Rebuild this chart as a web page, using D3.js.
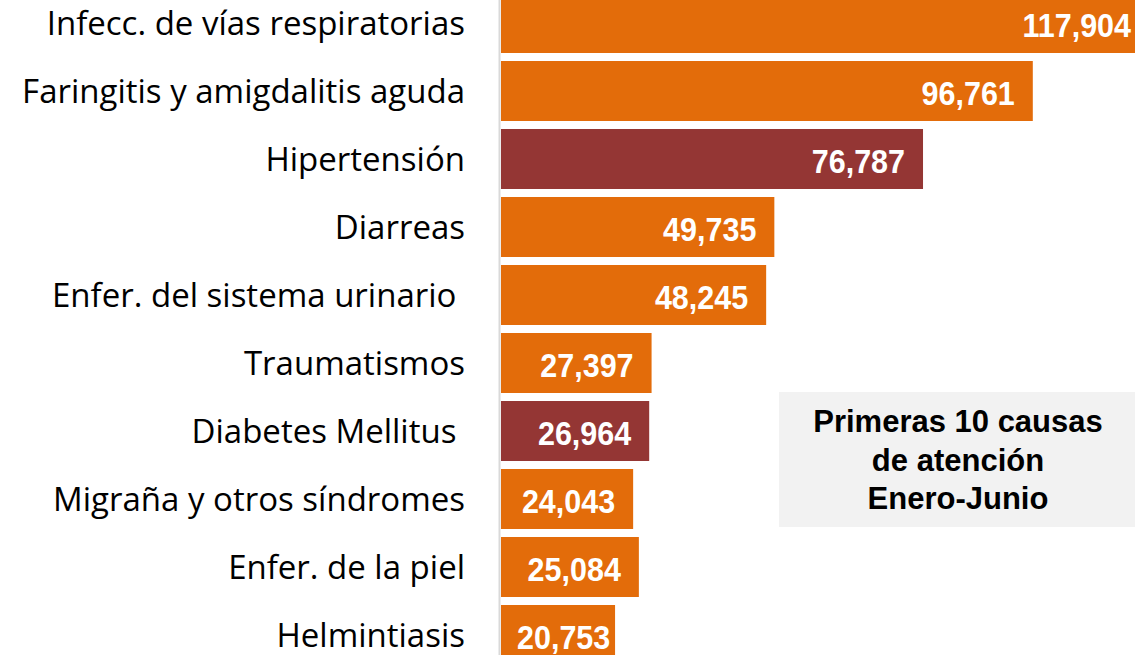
<!DOCTYPE html>
<html>
<head>
<meta charset="utf-8">
<script src="https://cdn.jsdelivr.net/npm/d3@7"></script>
<style>
    body { margin: 0; background: #fff; }
    svg { display: block; }
</style>
</head>
<body>
<svg width="1135" height="655"></svg>
<script>
const categories = [
    "Infecc. de vías respiratorias",
    "Faringitis y amigdalitis aguda",
    "Hipertensión",
    "Diarreas",
    "Enfer. del sistema urinario ",
    "Traumatismos",
    "Diabetes Mellitus ",
    "Migraña y otros síndromes",
    "Enfer. de la piel",
    "Helmintiasis"
];
const values = [117904, 96761, 76787, 49735, 48245, 27397, 26964, 24043, 25084, 20753];
const highlighted = ["Hipertensión", "Diabetes Mellitus "];
const boxLines = ["Primeras 10 causas", "de atención", "Enero-Junio"];

const svg = d3.select("svg");
const orange = "#e36c0a";
const darkRed = "#943634";

const data = categories.map((c, i) => ({ name: c, value: values[i] }));

const x = d3.scaleLinear()
    .domain([0, 117904])
    .range([501, 1149]);

const y = d3.scaleBand()
    .domain(categories)
    .range([-11, 669])
    .paddingInner(8 / 68)
    .paddingOuter(4 / 68);

// title box
svg.append("rect")
    .attr("x", 779)
    .attr("y", 392)
    .attr("width", 360)
    .attr("height", 135)
    .attr("fill", "#f2f2f2");

svg.append("g")
    .selectAll("text")
    .data(boxLines)
    .enter()
    .append("text")
    .attr("x", 958)
    .attr("y", (d, i) => 432 + i * 38.5)
    .attr("text-anchor", "middle")
    .attr("font-family", "Liberation Sans, Arial, sans-serif")
    .attr("font-weight", "bold")
    .attr("font-size", 31)
    .attr("fill", "#000")
    .text(d => d);

// bars
svg.append("g")
    .selectAll("rect")
    .data(data)
    .enter()
    .append("rect")
    .attr("x", x(0))
    .attr("y", d => y(d.name))
    .attr("width", d => x(d.value) - x(0))
    .attr("height", y.bandwidth())
    .attr("fill", d => highlighted.includes(d.name) ? darkRed : orange);

// axis line
svg.append("line")
    .attr("x1", 499.5)
    .attr("x2", 499.5)
    .attr("y1", 0)
    .attr("y2", 655)
    .attr("stroke", "#d9d9d9")
    .attr("stroke-width", 2);

// category labels
svg.append("g")
    .selectAll("text")
    .data(data)
    .enter()
    .append("text")
    .attr("x", 465)
    .attr("y", d => y(d.name) + y.bandwidth() / 2)
    .attr("dy", "0.36em")
    .attr("text-anchor", "end")
    .attr("font-family", "Open Sans, sans-serif")
    .attr("font-size", 33)
    .attr("fill", "#000")
    .style("white-space", "pre")
    .text(d => d.name);

// value labels (slightly stretched vertically like the original)
const fmt = d3.format(",");
const labels = svg.append("g")
    .selectAll("text")
    .data(data)
    .enter()
    .append("text")
    .attr("dy", "0.36em")
    .attr("text-anchor", "end")
    .attr("font-family", "Liberation Sans, Arial, sans-serif")
    .attr("font-weight", "bold")
    .attr("font-size", 30.5)
    .attr("fill", "#fff")
    .text(d => fmt(d.value));

labels.attr("transform", function (d) {
    const w = this.getComputedTextLength();
    const lx = Math.max(x(d.value) - 18, x(0) + 16 + w);
    const ly = y(d.name) + y.bandwidth() / 2 + 1.5;
    return `translate(${lx},${ly}) scale(1,1.1)`;
});
</script>
</body>
</html>
